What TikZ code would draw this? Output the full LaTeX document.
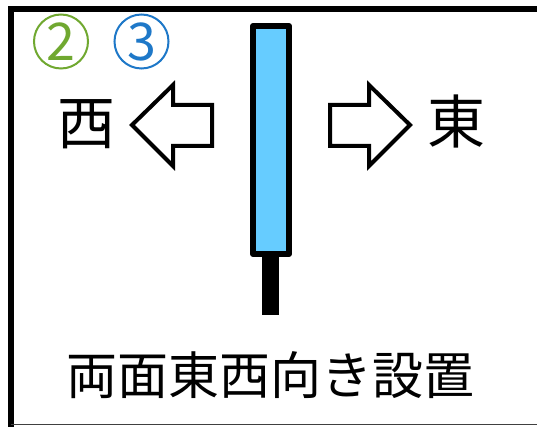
\documentclass[tikz,border=0pt]{standalone}
\usepackage{fontspec}
\setmainfont{Noto Sans CJK JP}
\definecolor{panelblue}{RGB}{102,204,255}
\definecolor{numgreen}{RGB}{112,168,48}
\definecolor{numblue}{RGB}{30,120,200}
\begin{document}
\begin{tikzpicture}[x=1pt,y=-1pt,
  frameline/.style={line width=6pt},
  hollowarrow/.style={draw=black,fill=white,line width=4pt,line join=miter},
  dirlabel/.style={inner sep=0pt,font=\fontsize{58}{60}\selectfont},
  numcircle/.style={circle,draw,line width=2pt,minimum size=54pt,inner sep=0pt,font=\fontsize{52}{54}\selectfont}]
\useasboundingbox (0,0) rectangle (537,427);
% frame
\draw[frameline] (10.8,427) -- (10.8,8.7) -- (537,8.7);
\draw[line width=1.5pt,black!75] (10.8,424.5) -- (537,424.5);
% circled numbers
\node[numcircle,draw=numgreen,text=numgreen] (n2) at (61,41.5) {2};
\node[numcircle,draw=numblue,text=numblue] (n3) at (141.5,41.5) {3};
% panel and post
\fill[black] (262,254) rectangle (279,315);
\draw[line width=6pt,fill=panelblue,line join=round] (253,26) rectangle (289,254);
% arrows
\draw[hollowarrow] (132,125) -- (173,85) -- (173,105) -- (212,105) -- (212,146) -- (173,146) -- (173,166) -- cycle;
\draw[hollowarrow] (410,125) -- (369,85) -- (369,105) -- (330,105) -- (330,146) -- (369,146) -- (369,166) -- cycle;
% labels
\node[dirlabel] (west) at (86,124) {西};
\node[dirlabel] (east) at (456,121) {東};
\node[inner sep=0pt,font=\fontsize{51}{53}\selectfont] (title) at (270.5,375) {両面東西向き設置};
\end{tikzpicture}
\end{document}
